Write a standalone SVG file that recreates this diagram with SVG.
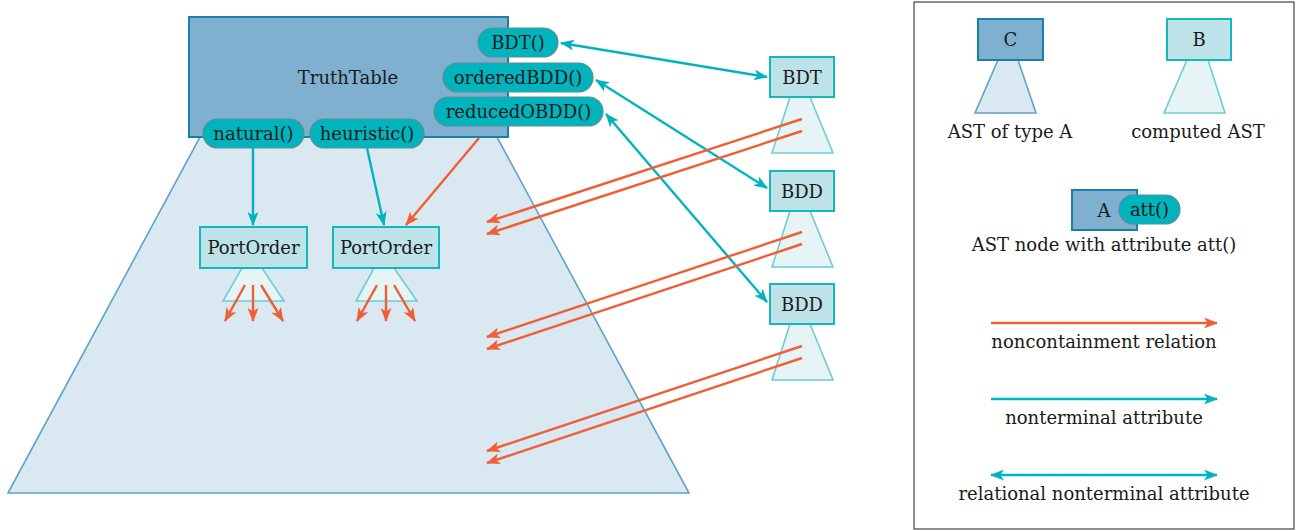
<svg xmlns="http://www.w3.org/2000/svg" width="1301" height="531" viewBox="0 0 1301 531">
<defs>
<style>
text{font-family:"DejaVu Serif","Liberation Serif",serif;font-size:18px;fill:#1a1a1a;text-anchor:middle}
.ast{fill:#7fb0d0;stroke:#1b7fa8;stroke-width:2}
.asttrap{fill:#dae8f1;stroke:#5fa3c6;stroke-width:1.6}
.comp{fill:#bde3e8;stroke:#14b6c0;stroke-width:2}
.comptrap{fill:#e6f4f6;stroke:#6ccdd3;stroke-width:1.6}
.pill{fill:#00b4be;stroke:#5e8e93;stroke-width:1.2}
.red{stroke:#f05f34;stroke-width:2.4;fill:none;marker-end:url(#ar)}
.cy{stroke:#00b4be;stroke-width:2.4;fill:none;marker-end:url(#ac)}
.cy2{stroke:#00b4be;stroke-width:2.4;fill:none;marker-end:url(#ac);marker-start:url(#ac)}
</style>
<marker id="ar" viewBox="0 0 14 11" refX="13" refY="5.5" markerWidth="14" markerHeight="11" markerUnits="userSpaceOnUse" orient="auto-start-reverse"><path d="M0,0 L14,5.5 L0,11 L3.5,5.5 z" fill="#f05f34"/></marker>
<marker id="ac" viewBox="0 0 14 11" refX="13" refY="5.5" markerWidth="14" markerHeight="11" markerUnits="userSpaceOnUse" orient="auto-start-reverse"><path d="M0,0 L14,5.5 L0,11 L3.5,5.5 z" fill="#00b4be"/></marker>
</defs>
<rect width="1301" height="531" fill="#ffffff"/>

<g id="truthtable">
<polygon class="asttrap" points="200,137 497,137 689,493 8,493"/>
<rect class="ast" x="189" y="17" width="319" height="120"/>
<text x="348" y="84">TruthTable</text>
</g>

<g id="attr-bdt"><rect class="pill" x="478" y="28" width="80" height="29" rx="14.5"/><text x="518" y="49">BDT()</text></g>
<g id="attr-orderedbdd"><rect class="pill" x="443" y="63" width="150" height="29" rx="14.5"/><text x="518" y="84">orderedBDD()</text></g>
<g id="attr-reducedobdd"><rect class="pill" x="434" y="97" width="169" height="29" rx="14.5"/><text x="518.5" y="118">reducedOBDD()</text></g>
<g id="attr-natural"><rect class="pill" x="203" y="119" width="101" height="29" rx="14.5"/><text x="253.5" y="140">natural()</text></g>
<g id="attr-heuristic"><rect class="pill" x="310" y="119" width="114" height="29" rx="14.5"/><text x="367" y="140">heuristic()</text></g>

<g id="portorder1">
<polygon class="comptrap" points="242,268 262,268 284,301 223,301"/>
<rect class="comp" x="200" y="227" width="107" height="41"/>
<text x="253.5" y="254">PortOrder</text>
</g>
<g id="portorder2">
<polygon class="comptrap" points="374,268 394,268 417,301 356,301"/>
<rect class="comp" x="333" y="227" width="106" height="41"/>
<text x="386" y="254">PortOrder</text>
</g>

<g id="bdt">
<polygon class="comptrap" points="790,97 810,97 833,153 772,153"/>
<rect class="comp" x="770" y="57" width="64" height="40"/>
<text x="802" y="84">BDT</text>
</g>
<g id="bdd1">
<polygon class="comptrap" points="790,211 810,211 833,267 772,267"/>
<rect class="comp" x="770" y="171" width="64" height="40"/>
<text x="802" y="198">BDD</text>
</g>
<g id="bdd2">
<polygon class="comptrap" points="790,324 810,324 833,380 772,380"/>
<rect class="comp" x="770" y="284" width="64" height="40"/>
<text x="802" y="311">BDD</text>
</g>

<g id="connectors">
<line class="cy2" x1="561" y1="43" x2="767" y2="77"/>
<line class="cy2" x1="596" y1="80" x2="767" y2="188"/>
<line class="cy2" x1="606" y1="114" x2="767" y2="302"/>
<line class="cy" x1="253" y1="148" x2="253" y2="225"/>
<line class="cy" x1="367" y1="148" x2="384" y2="225"/>
<line class="red" x1="479" y1="138" x2="406" y2="225"/>
<line class="red" x1="802" y1="119" x2="487" y2="222"/>
<line class="red" x1="802" y1="131" x2="487" y2="234"/>
<line class="red" x1="802" y1="232" x2="487" y2="337"/>
<line class="red" x1="802" y1="244" x2="487" y2="349"/>
<line class="red" x1="802" y1="346" x2="487" y2="451"/>
<line class="red" x1="802" y1="358" x2="487" y2="463"/>
<line class="red" x1="245" y1="285" x2="225" y2="321"/>
<line class="red" x1="253" y1="285" x2="253" y2="321"/>
<line class="red" x1="261" y1="285" x2="283" y2="321"/>
<line class="red" x1="377" y1="285" x2="357" y2="321"/>
<line class="red" x1="386" y1="285" x2="386" y2="321"/>
<line class="red" x1="394" y1="285" x2="415" y2="321"/>
</g>

<g id="legend">
<rect x="914" y="2" width="380" height="527" fill="none" stroke="#444" stroke-width="1.2"/>
<g id="legend-ast">
<polygon class="asttrap" points="998,60 1018,60 1036,113 975,113"/>
<rect class="ast" x="978" y="19" width="65" height="41"/>
<text x="1010.5" y="46">C</text>
<text x="1010" y="138">AST of type A</text>
</g>
<g id="legend-computed">
<polygon class="comptrap" points="1187,60 1208,60 1225,113 1164,113"/>
<rect class="comp" x="1167" y="19" width="64" height="41"/>
<text x="1199" y="46">B</text>
<text x="1198" y="138">computed AST</text>
</g>
<g id="legend-attr">
<rect class="ast" x="1072" y="190" width="65" height="40"/>
<text x="1104" y="217">A</text>
<rect class="pill" x="1119" y="195" width="61" height="29" rx="14.5"/>
<text x="1149.5" y="216">att()</text>
<text x="1104" y="251">AST node with attribute att()</text>
</g>
<g id="legend-arrows">
<line class="red" x1="991" y1="323" x2="1217" y2="323"/>
<text x="1104" y="348">noncontainment relation</text>
<line class="cy" x1="991" y1="399" x2="1217" y2="399"/>
<text x="1104" y="424">nonterminal attribute</text>
<line class="cy2" x1="991" y1="475" x2="1217" y2="475"/>
<text x="1104" y="500">relational nonterminal attribute</text>
</g>
</g>
</svg>
